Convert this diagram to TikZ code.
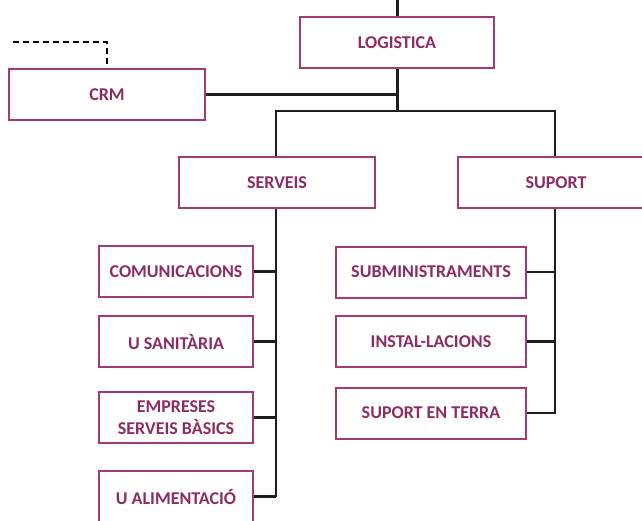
\documentclass[tikz,border=0pt]{standalone}
\usepackage{fontspec}
\setmainfont{Carlito}
\definecolor{boxline}{HTML}{A33A72}
\definecolor{boxtext}{HTML}{8C2C62}
\definecolor{wire}{HTML}{1E1E1E}
\begin{document}
\begin{tikzpicture}[x=1pt,y=-1pt,
  unit/.style={draw=boxline, line width=2pt, fill=white, text=boxtext,
    font=\fontsize{18}{22}\selectfont\bfseries, align=center,
    minimum height=51pt, inner sep=0pt},
  topunit/.style={unit, minimum width=194pt},
  midunit/.style={unit, minimum width=196pt},
  leftleaf/.style={unit, minimum width=154pt},
  rightleaf/.style={unit, minimum width=190pt},
  link/.style={draw=wire, line width=2.2pt},
  linkdash/.style={draw=black, line width=2pt, dash pattern=on 6pt off 4pt}]
\useasboundingbox (0,0) rectangle (642,520);
\clip (0,0) rectangle (642,520);

% top level
\node[topunit] (logistica) at (397,42.5) {LOGISTICA};
\node[midunit] (crm) at (107,94.5) {CRM};

% second level
\node[midunit] (serveis) at (277,182.5) {SERVEIS};
\node[midunit] (suport) at (556,182.5) {SUPORT};

% services
\node[leftleaf] (comun) at (176,271.5) {COMUNICACIONS};
\node[leftleaf] (sanit) at (176,341.5) {U SANITÀRIA};
\node[leftleaf] (empres) at (176,417.5) {EMPRESES\\SERVEIS BÀSICS};
\node[leftleaf] (alim) at (176,496.5) {U ALIMENTACIÓ};

% support
\node[rightleaf] (submin) at (431,272) {SUBMINISTRAMENTS};
\node[rightleaf] (instal) at (431,341.5) {INSTAL-LACIONS};
\node[rightleaf] (terra) at (431,413) {SUPORT EN TERRA};

% junctions
\coordinate (top) at (397.5,0);
\coordinate (hub) at (397.5,111);
\coordinate (crmjoin) at (397.5,94.5);
\coordinate (lbus) at (276,497);
\coordinate (rbus) at (555,414);
\coordinate (dashend) at (13,42);

% connectors
\draw[link] (top) -- (logistica.north -| top);
\draw[link] (logistica.south -| hub) -- (hub);
\draw[link] (crm.east) -- (crmjoin);
\draw[link] (serveis.north -| lbus) |- (hub) -| (suport.north -| rbus);
\draw[link] (serveis.south -| lbus) -- (lbus);
\draw[link] (suport.south -| rbus) -- (rbus);
\foreach \n in {comun,sanit,empres,alim}
  \draw[link] (\n.east) -- (\n.east -| lbus);
\foreach \n in {submin,instal,terra}
  \draw[link] (\n.east) -- (\n.east -| rbus);
\draw[linkdash] (dashend) -| (crm.north);
\end{tikzpicture}
\end{document}
